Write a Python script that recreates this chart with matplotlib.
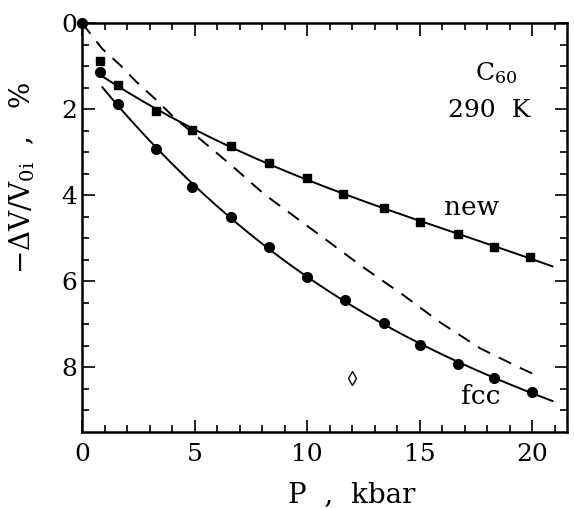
import numpy as np
import matplotlib.pyplot as plt

# measured points (P in kbar, -dV/V0 in %)
p_new = [0.8, 1.6, 3.3, 4.9, 6.6, 8.3, 10.0, 11.6, 13.4, 15.0, 16.7, 18.3, 19.9]
v_new = [0.88, 1.43, 2.04, 2.49, 2.86, 3.26, 3.61, 3.96, 4.30, 4.61, 4.90, 5.21, 5.44]
p_fcc = [0.0, 0.8, 1.6, 3.3, 4.9, 6.6, 8.3, 10.0, 11.7, 13.4, 15.0, 16.7, 18.3, 20.0]
v_fcc = [0.0, 1.13, 1.88, 2.92, 3.81, 4.51, 5.21, 5.89, 6.44, 6.97, 7.48, 7.91, 8.25, 8.57]
p_odd = [12.0]
v_odd = [8.24]

# dashed reference curve
p_dash = [0.0, 0.9, 1.7, 2.4, 3.2, 4.1, 5.6, 6.6, 8.1, 10.7, 12.4, 14.3, 15.9, 17.7, 19.5, 20.0]
v_dash = [0.0, 0.6, 0.98, 1.36, 1.74, 2.2, 2.85, 3.29, 3.98, 4.98, 5.64, 6.33, 6.95, 7.56, 8.02, 8.14]

plt.rcParams['font.family'] = ['DejaVu Serif']
plt.rcParams['mathtext.fontset'] = 'dejavuserif'

fig = plt.figure(figsize=(5.74, 5.08), dpi=100)
ax = fig.add_axes([0.143, 0.1496, 0.845, 0.805])

# smooth fit lines through the points (first off-curve point skipped)
c_new = np.polyfit(p_new[1:], v_new[1:], 3)
c_fcc = np.polyfit(p_fcc[2:], v_fcc[2:], 3)
xx = np.linspace(0.9, 20.9, 200)
ax.plot(xx, np.polyval(c_new, xx), color='black', lw=1.4)
ax.plot(xx, np.polyval(c_fcc, xx), color='black', lw=1.4)
ax.plot(p_dash, v_dash, color='black', lw=1.4, dashes=(7, 5))

ax.plot(p_new, v_new, 's', color='black', ms=6)
ax.plot(p_fcc, v_fcc, 'o', color='black', ms=7, clip_on=False, zorder=5)
ax.plot(p_odd, v_odd, 'd', mfc='white', mec='black', ms=7, mew=1.0)

ax.text(17.3, 4.28, 'new', fontsize=19, ha='center', va='center')
ax.text(17.7, 8.67, 'fcc', fontsize=19, ha='center', va='center')
ax.text(18.4, 1.15, r'C$_{60}$', fontsize=18, ha='center', va='center')
ax.text(18.1, 2.02, '290  K', fontsize=18, ha='center', va='center')

ax.set_xlim(0, 21.55)
ax.set_ylim(9.5, 0)
ax.set_xticks([0, 5, 10, 15, 20])
ax.set_xticks(np.arange(0, 22, 1), minor=True)
ax.set_yticks([0, 2, 4, 6, 8])
ax.set_yticks(np.arange(0, 9.5, 0.5), minor=True)
ax.tick_params(which='both', direction='in', top=True, right=True, width=1.2, labelsize=18)
ax.tick_params(which='major', length=9)
ax.tick_params(which='minor', length=5)
ax.tick_params(axis='x', which='major', pad=8)
for s in ax.spines.values():
    s.set_linewidth(1.8)

ax.set_xlabel('P  ,  kbar', fontsize=20)
ax.xaxis.set_label_coords(0.555, -0.12)
ax.set_ylabel(r'$-\Delta$V/V$_{\mathrm{0i}}$  ,   %', fontsize=20)
ax.yaxis.set_label_coords(-0.093, 0.62)

fig.savefig('out.png', dpi=100)
